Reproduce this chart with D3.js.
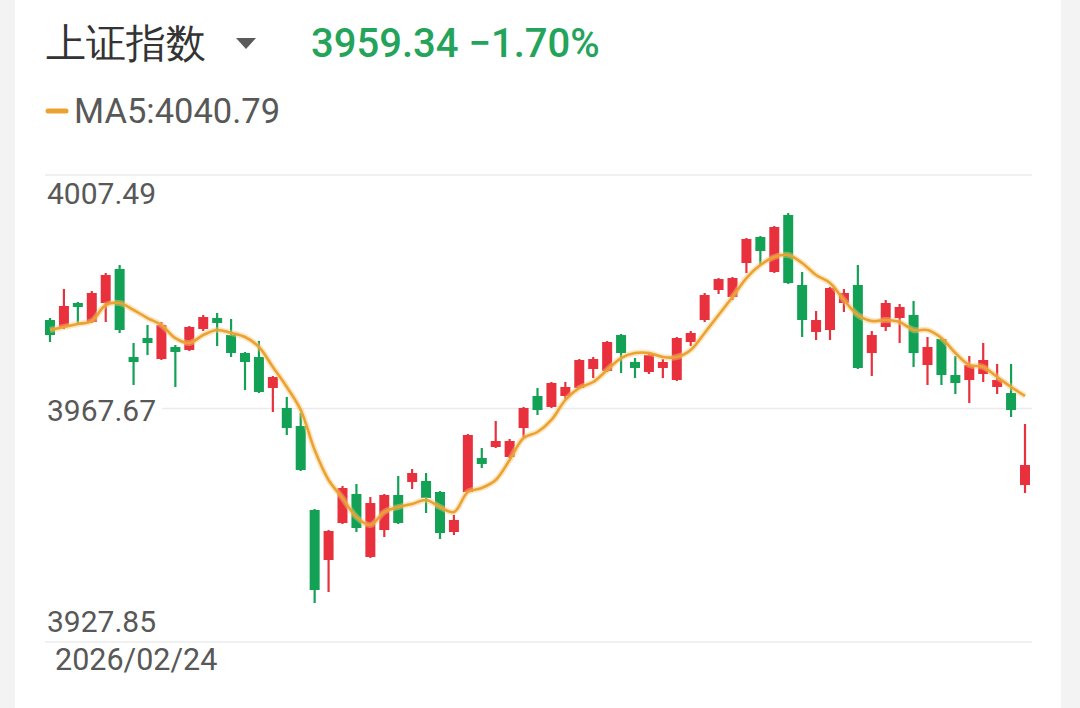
<!DOCTYPE html>
<html>
<head>
<meta charset="utf-8">
<script src="https://cdn.jsdelivr.net/npm/d3@7"></script>
<style>
  html, body { margin: 0; padding: 0; background: #f3f3f3; }
  svg { display: block; }
  text { font-family: Roboto, "Noto Sans", sans-serif; }
</style>
</head>
<body>
<div id="kline_div"></div>
<script>
// chart values
const titleText = "上证指数"
const lastPriceText = "3959.34"
const changeText = "\u22121.70%"
const maLegendText = "MA5:4040.79"
const startDate = "2026/02/24"
const yTicks = [4007.49, 3967.67, 3927.85]

const open = [3982.76, 3981.57, 3985.66, 3982.42, 3985.66, 3991.46, 3976.45, 3979.69, 3976.11, 3978.16,
  3977.65, 3981.23, 3983.10, 3980.20, 3977.13, 3976.45, 3971.17, 3967.76, 3964.69, 3950.36,
  3941.83, 3948.14, 3953.09, 3942.35, 3946.95, 3952.92, 3955.14, 3955.31, 3953.43, 3946.61,
  3953.43, 3959.23, 3961.10, 3959.40, 3964.34, 3969.80, 3967.93, 3969.80, 3971.17, 3974.41,
  3974.07, 3980.20, 3975.60, 3973.89, 3974.58, 3972.53, 3979.01, 3982.76, 3987.88, 3986.68,
  3992.48, 3996.92, 3990.95, 4000.67, 3988.73, 3980.72, 3981.06, 3985.66, 3988.73, 3977.13,
  3981.57, 3983.10, 3983.62, 3975.09, 3979.52, 3973.38, 3972.53, 3973.55, 3971.34, 3970.31, 3954.62]

const high = [3983.10, 3988.05, 3985.83, 3987.71, 3990.78, 3992.14, 3978.84, 3981.91, 3982.42, 3978.50,
  3981.74, 3983.62, 3983.96, 3982.93, 3977.31, 3979.18, 3973.21, 3969.63, 3966.90, 3950.53,
  3946.95, 3954.45, 3954.79, 3952.58, 3953.09, 3956.16, 3957.35, 3956.67, 3953.60, 3949.51,
  3963.32, 3960.93, 3965.54, 3962.47, 3967.93, 3971.17, 3972.19, 3972.19, 3976.11, 3976.45,
  3979.18, 3980.38, 3976.28, 3977.13, 3976.11, 3979.86, 3980.89, 3987.37, 3989.92, 3990.10,
  3996.75, 3997.09, 3998.79, 4001.01, 3990.95, 3984.30, 3988.39, 3988.05, 3992.14, 3980.89,
  3986.17, 3985.49, 3986.00, 3979.86, 3979.69, 3976.62, 3976.62, 3978.84, 3975.26, 3975.26, 3965.03]

const low = [3979.01, 3981.23, 3982.25, 3982.25, 3982.42, 3980.55, 3971.68, 3976.79, 3975.94, 3971.34,
  3977.48, 3980.89, 3978.33, 3976.45, 3970.82, 3970.31, 3967.07, 3963.15, 3957.01, 3934.50,
  3936.38, 3947.97, 3946.61, 3942.18, 3945.76, 3947.97, 3953.94, 3949.85, 3945.42, 3946.10,
  3953.26, 3957.52, 3960.93, 3959.23, 3962.81, 3966.56, 3967.76, 3969.29, 3971.00, 3972.87,
  3973.89, 3973.72, 3972.87, 3973.55, 3972.87, 3972.36, 3978.33, 3982.42, 3987.20, 3986.17,
  3990.78, 3992.14, 3990.78, 3988.90, 3979.86, 3979.35, 3979.35, 3984.13, 3974.41, 3973.21,
  3980.89, 3978.84, 3974.75, 3971.68, 3971.68, 3970.14, 3968.61, 3972.19, 3970.14, 3966.22, 3953.26]

const close = [3980.20, 3985.15, 3984.98, 3987.37, 3990.44, 3981.06, 3975.60, 3978.84, 3981.91, 3977.31,
  3981.57, 3983.27, 3982.25, 3977.13, 3975.60, 3970.48, 3973.04, 3964.34, 3957.18, 3936.72,
  3946.78, 3954.11, 3947.29, 3951.55, 3952.92, 3948.14, 3956.67, 3952.41, 3946.44, 3948.66,
  3963.15, 3958.21, 3962.13, 3962.13, 3967.76, 3967.41, 3972.02, 3971.34, 3975.94, 3976.11,
  3979.01, 3977.13, 3974.58, 3976.79, 3975.60, 3979.69, 3980.55, 3987.03, 3989.75, 3989.92,
  3996.58, 3994.53, 3998.62, 3989.07, 3982.76, 3982.76, 3988.22, 3987.37, 3974.58, 3980.20,
  3985.66, 3984.98, 3977.13, 3978.16, 3973.38, 3972.02, 3975.09, 3975.94, 3972.53, 3967.41, 3958.03]

const ma5 = [3981.06, 3981.57, 3982.08, 3982.59, 3985.32, 3985.66, 3984.47, 3983.10, 3981.91, 3979.69,
  3978.84, 3980.20, 3981.06, 3980.55, 3979.86, 3978.16, 3974.75, 3971.34, 3967.41, 3960.59,
  3955.48, 3952.41, 3949.17, 3947.80, 3950.02, 3950.87, 3951.38, 3952.07, 3950.87, 3950.02,
  3953.43, 3954.11, 3955.48, 3958.89, 3962.64, 3963.66, 3965.71, 3969.12, 3971.17, 3972.19,
  3974.24, 3976.28, 3977.13, 3977.13, 3976.45, 3976.45, 3977.65, 3980.55, 3983.62, 3986.68,
  3989.92, 3992.14, 3993.51, 3993.85, 3992.48, 3990.44, 3989.07, 3986.17, 3983.62, 3982.59,
  3982.76, 3982.42, 3981.06, 3981.06, 3979.69, 3977.13, 3975.09, 3974.75, 3973.04, 3971.34, 3969.80]

// colours
const UPcolor = "#e8313d"
const DOWNcolor = "#13a155"
const MAcolor = "#eba231"
const GRIDcolor = "#ebebeb"
const LABELcolor = "#585858"

const W = 1080, H = 708
const plot = { left: 45, right: 1032, top: 175, bottom: 642, firstX: 50, lastX: 1025 }

const svg = d3.select("#kline_div")
  .append("svg")
  .attr("width", W)
  .attr("height", H)
  .attr("viewBox", `0 0 ${W} ${H}`)

// x: candle index -> coord, y: price -> coord
const x = d3.scaleLinear()
  .domain([0, open.length - 1])
  .range([plot.firstX, plot.lastX])

const y = d3.scaleLinear()
  .domain([yTicks[2], yTicks[0]])
  .range([plot.bottom, plot.top])

const candles = open.map((o, i) => ({ i: i, o: o, h: high[i], l: low[i], c: close[i] }))

drawCard = () => {
  svg.append("rect")
    .attr("x", 15).attr("y", 0)
    .attr("width", 1046).attr("height", H)
    .attr("fill", "#ffffff")
}

drawHeader = () => {
  svg.append("text")
    .attr("x", 46).attr("y", 57)
    .attr("font-size", 40)
    .attr("font-family", "'Noto Sans CJK SC', sans-serif")
    .attr("fill", "#333333")
    .text(titleText)

  // dropdown triangle
  svg.append("path")
    .attr("d", "M236,38 L256,38 L246,49 Z")
    .attr("fill", "#5a5a5a")

  svg.append("text")
    .attr("x", 311).attr("y", 57)
    .attr("font-size", 40)
    .attr("font-weight", 500)
    .attr("fill", "#24a45b")
    .text(lastPriceText + " " + changeText)

  // MA legend
  svg.append("line")
    .attr("x1", 48).attr("x2", 66)
    .attr("y1", 111).attr("y2", 111)
    .attr("stroke", MAcolor)
    .attr("stroke-width", 5)
    .attr("stroke-linecap", "round")

  svg.append("text")
    .attr("x", 74).attr("y", 123)
    .attr("font-size", 34.5)
    .attr("fill", LABELcolor)
    .text(maLegendText)
}

drawGrid = () => {
  // left edge of each grid line (middle one starts after its label)
  const gridStart = [plot.left, 162, plot.left]
  svg.selectAll(".grid-line")
    .data(yTicks)
    .enter()
    .append("line")
    .attr("class", "grid-line")
    .attr("x1", (d, i) => gridStart[i])
    .attr("x2", plot.right)
    .attr("y1", d => y(d))
    .attr("y2", d => y(d))
    .attr("stroke", GRIDcolor)
    .attr("stroke-width", 1.5)

  // label baseline offset from its grid line
  const labelOffset = [29, 12, -10]
  svg.selectAll(".y-label")
    .data(yTicks)
    .enter()
    .append("text")
    .attr("class", "y-label")
    .attr("x", 47)
    .attr("y", (d, i) => y(d) + labelOffset[i])
    .attr("font-size", 30)
    .attr("fill", LABELcolor)
    .text(d => d.toFixed(2))

  svg.append("text")
    .attr("x", 55).attr("y", 670)
    .attr("font-size", 30.5)
    .attr("fill", LABELcolor)
    .text(startDate)
}

drawCandles = () => {
  const bodyW = 10
  const colorOf = d => d.c >= d.o ? UPcolor : DOWNcolor

  svg.selectAll(".wick")
    .data(candles)
    .enter()
    .append("line")
    .attr("class", "wick")
    .attr("x1", d => x(d.i)).attr("x2", d => x(d.i))
    .attr("y1", d => y(d.h)).attr("y2", d => y(d.l))
    .attr("stroke", colorOf)
    .attr("stroke-width", 2.2)

  svg.selectAll(".body")
    .data(candles)
    .enter()
    .append("rect")
    .attr("class", "body")
    .attr("x", d => x(d.i) - bodyW / 2)
    .attr("y", d => y(Math.max(d.o, d.c)))
    .attr("width", bodyW)
    .attr("height", d => Math.max(2, Math.abs(y(d.o) - y(d.c))))
    .attr("fill", colorOf)
}

drawMA = () => {
  const line = d3.line()
    .x((d, i) => x(i))
    .y(d => y(d))
    .curve(d3.curveCatmullRom)

  // soft halo then core line
  svg.append("path")
    .datum(ma5)
    .attr("fill", "none")
    .attr("stroke", "#f7c97a")
    .attr("stroke-opacity", 0.45)
    .attr("stroke-width", 6)
    .attr("d", line)

  svg.append("path")
    .datum(ma5)
    .attr("fill", "none")
    .attr("stroke", MAcolor)
    .attr("stroke-width", 2.6)
    .attr("d", line)
}

drawCard()
drawHeader()
drawGrid()
drawCandles()
drawMA()
</script>
</body>
</html>
